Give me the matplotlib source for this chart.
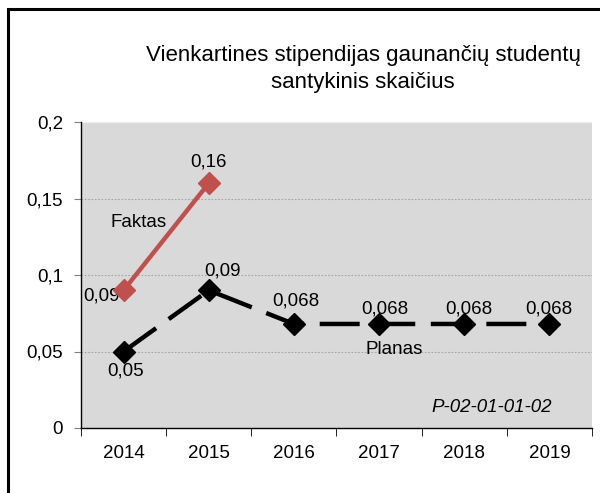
import matplotlib
matplotlib.use("Agg")
import matplotlib.pyplot as plt
from matplotlib.patches import Rectangle

years = ["2014", "2015", "2016", "2017", "2018", "2019"]
faktas = [0.09, 0.16]
planas = [0.05, 0.09, 0.068, 0.068, 0.068, 0.068]
faktas_labels = ["0,09", "0,16"]
planas_labels = ["0,05", "0,09", "0,068", "0,068", "0,068", "0,068"]
yticks = [0, 0.05, 0.1, 0.15, 0.2]
ytick_labels = ["0", "0,05", "0,1", "0,15", "0,2"]
title = "Vienkartines stipendijas gaunančių studentų\nsantykinis skaičius"

plt.rcParams['font.family'] = ['Liberation Sans', 'DejaVu Sans']
FS = 13.5

fig = plt.figure(figsize=(6.0, 4.93), dpi=100)
ax = fig.add_axes([81/600, 1-428/493, (592-81)/600, (428-122)/493])
ax.set_facecolor("#D9D9D9")

xs = list(range(len(years)))
ax.set_xlim(-0.5, len(years) - 0.5)
ax.set_ylim(0, 0.2)

for y in yticks[1:-1]:
    ax.axhline(y, color="#A6A6A6", lw=0.8, ls=(0, (1.5, 1.5)), zorder=1)
ax.axhline(0.2, color="#EDEDED", lw=1.0, zorder=1)

ax.plot(xs, planas, color="black", lw=3.2, ls=(0, (9, 3.5)),
        marker="D", ms=11.5, zorder=3)
ax.plot(xs[:len(faktas)], faktas, color="#C0504D", lw=3.2,
        marker="D", ms=11, zorder=4)

# data labels
f_off = [(-22, -6), (0, 21)]
for i, (v, t) in enumerate(zip(faktas, faktas_labels)):
    ax.annotate(t, (xs[i], v), xytext=f_off[i], textcoords="offset pixels",
                ha="center", va="center", fontsize=FS)
p_off = [(2, -19), (14, 19), (2, 23), (6, 15), (5, 15), (-1, 15)]
for i, (v, t) in enumerate(zip(planas, planas_labels)):
    ax.annotate(t, (xs[i], v), xytext=p_off[i], textcoords="offset pixels",
                ha="center", va="center", fontsize=FS)

ax.text(139/600, 1-223/493, "Faktas", transform=fig.transFigure,
        ha="center", va="center", fontsize=FS)
ax.text(394.5/600, 1-349/493, "Planas", transform=fig.transFigure,
        ha="center", va="center", fontsize=FS)
ax.text(492/600, 1-408/493, "P-02-01-01-02", transform=fig.transFigure,
        ha="center", va="center", fontsize=FS, style="italic")

fig.text(363/600, 1-69/493, title, ha="center", va="center",
         fontsize=16, linespacing=1.32)

# axes styling
for s in ["top", "right"]:
    ax.spines[s].set_visible(False)
ax.spines["left"].set_color("black")
ax.spines["bottom"].set_color("black")
ax.spines["left"].set_linewidth(1.0)
ax.spines["bottom"].set_linewidth(1.0)

ax.set_yticks(yticks)
ax.set_yticklabels(ytick_labels, fontsize=FS)
ax.tick_params(axis="y", length=5, color="#808080", pad=8)

ax.set_xticks(xs)
ax.set_xticklabels(years, fontsize=FS)
ax.tick_params(axis="x", which="major", length=0, pad=12)
ax.set_xticks([x - 0.5 for x in xs] + [xs[-1] + 0.5], minor=True)
ax.tick_params(axis="x", which="minor", length=6, color="black")

# outer border
fig.patches.append(Rectangle((7.5/600, -0.1), 1.2, (1 - 9.5/493) + 0.1,
                             transform=fig.transFigure, fill=False,
                             edgecolor="black", lw=2.2, zorder=10))

fig.savefig("out.png", dpi=100)
